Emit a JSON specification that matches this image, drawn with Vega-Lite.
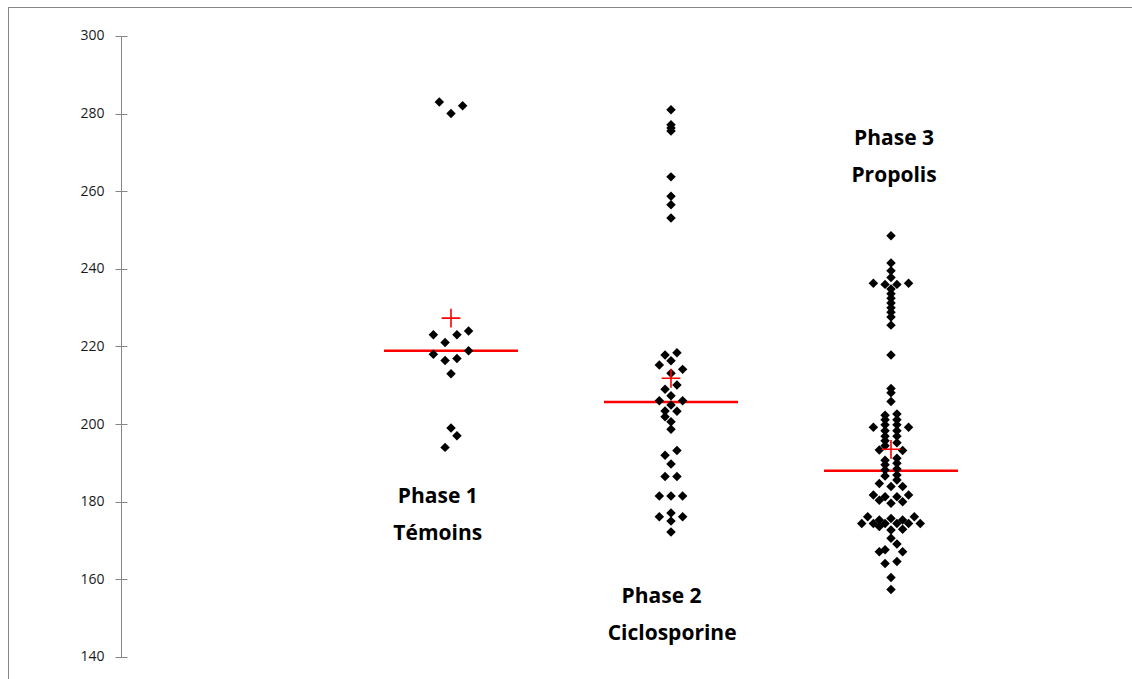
{
  "$schema": "https://vega.github.io/schema/vega-lite/v6.json",
  "width": 1124,
  "height": 672,
  "autosize": {"type": "none"},
  "padding": {"left": 8, "top": 7, "right": 0, "bottom": 0},
  "background": "white",
  "config": {
    "view": {"stroke": null},
    "axisY": {
      "domain": false,
      "grid": false,
      "tickSize": 12,
      "tickColor": "#868686",
      "tickWidth": 1,
      "offset": -119,
      "labelPadding": 11,
      "labelFont": "Open Sans",
      "labelFontSize": 14,
      "labelColor": "#1a1a1a"
    }
  },
  "datasets": {
    "dots": [
      {"phase": 1, "x": 0.947, "value": 283},
      {"phase": 1, "x": 1.0, "value": 280},
      {"phase": 1, "x": 1.053, "value": 282},
      {"phase": 1, "x": 0.920, "value": 223},
      {"phase": 1, "x": 0.973, "value": 221},
      {"phase": 1, "x": 1.027, "value": 223},
      {"phase": 1, "x": 1.080, "value": 224},
      {"phase": 1, "x": 0.920, "value": 218},
      {"phase": 1, "x": 0.973, "value": 216.4},
      {"phase": 1, "x": 1.027, "value": 216.9},
      {"phase": 1, "x": 1.080, "value": 218.9},
      {"phase": 1, "x": 1.0, "value": 213},
      {"phase": 1, "x": 1.0, "value": 199},
      {"phase": 1, "x": 1.027, "value": 197},
      {"phase": 1, "x": 0.973, "value": 194},

      {"phase": 2, "x": 2.0, "value": 281},
      {"phase": 2, "x": 2.0, "value": 277.1},
      {"phase": 2, "x": 2.0, "value": 276.3},
      {"phase": 2, "x": 2.0, "value": 275.5},
      {"phase": 2, "x": 2.0, "value": 263.7},
      {"phase": 2, "x": 2.0, "value": 258.7},
      {"phase": 2, "x": 2.0, "value": 256.5},
      {"phase": 2, "x": 2.0, "value": 253.1},
      {"phase": 2, "x": 1.973, "value": 217.8},
      {"phase": 2, "x": 2.027, "value": 218.4},
      {"phase": 2, "x": 2.0, "value": 216.3},
      {"phase": 2, "x": 1.947, "value": 215.2},
      {"phase": 2, "x": 2.053, "value": 214.1},
      {"phase": 2, "x": 2.0, "value": 213.1},
      {"phase": 2, "x": 2.027, "value": 210.1},
      {"phase": 2, "x": 1.973, "value": 209.0},
      {"phase": 2, "x": 2.0, "value": 207.3},
      {"phase": 2, "x": 1.947, "value": 206.0},
      {"phase": 2, "x": 2.053, "value": 206.0},
      {"phase": 2, "x": 2.0, "value": 204.9},
      {"phase": 2, "x": 2.027, "value": 203.3},
      {"phase": 2, "x": 1.973, "value": 203.4},
      {"phase": 2, "x": 1.973, "value": 201.9},
      {"phase": 2, "x": 2.0, "value": 200.6},
      {"phase": 2, "x": 2.0, "value": 198.7},
      {"phase": 2, "x": 2.027, "value": 193.2},
      {"phase": 2, "x": 1.973, "value": 192.0},
      {"phase": 2, "x": 2.0, "value": 189.7},
      {"phase": 2, "x": 1.973, "value": 186.5},
      {"phase": 2, "x": 2.027, "value": 186.5},
      {"phase": 2, "x": 1.947, "value": 181.5},
      {"phase": 2, "x": 2.0, "value": 181.5},
      {"phase": 2, "x": 2.053, "value": 181.5},
      {"phase": 2, "x": 1.947, "value": 176.1},
      {"phase": 2, "x": 2.053, "value": 176.1},
      {"phase": 2, "x": 2.0, "value": 177.1},
      {"phase": 2, "x": 2.0, "value": 175.0},
      {"phase": 2, "x": 2.0, "value": 172.2},

      {"phase": 3, "x": 3.0, "value": 248.5},
      {"phase": 3, "x": 3.0, "value": 241.5},
      {"phase": 3, "x": 3.0, "value": 239.5},
      {"phase": 3, "x": 3.0, "value": 237.8},
      {"phase": 3, "x": 2.920, "value": 236.3},
      {"phase": 3, "x": 2.973, "value": 236.0},
      {"phase": 3, "x": 3.027, "value": 236.0},
      {"phase": 3, "x": 3.080, "value": 236.3},
      {"phase": 3, "x": 3.0, "value": 234.8},
      {"phase": 3, "x": 3.0, "value": 233.6},
      {"phase": 3, "x": 3.0, "value": 232.4},
      {"phase": 3, "x": 3.0, "value": 231.2},
      {"phase": 3, "x": 3.0, "value": 230.0},
      {"phase": 3, "x": 3.0, "value": 228.8},
      {"phase": 3, "x": 3.0, "value": 227.6},
      {"phase": 3, "x": 3.0, "value": 225.5},
      {"phase": 3, "x": 3.0, "value": 217.8},
      {"phase": 3, "x": 3.0, "value": 209.2},
      {"phase": 3, "x": 3.0, "value": 208.1},
      {"phase": 3, "x": 3.0, "value": 205.8},
      {"phase": 3, "x": 2.973, "value": 202.3},
      {"phase": 3, "x": 3.027, "value": 202.6},
      {"phase": 3, "x": 2.973, "value": 201.1},
      {"phase": 3, "x": 3.027, "value": 201.1},
      {"phase": 3, "x": 2.973, "value": 199.8},
      {"phase": 3, "x": 3.027, "value": 199.8},
      {"phase": 3, "x": 2.920, "value": 199.2},
      {"phase": 3, "x": 3.080, "value": 199.2},
      {"phase": 3, "x": 2.973, "value": 198.3},
      {"phase": 3, "x": 3.027, "value": 198.3},
      {"phase": 3, "x": 2.973, "value": 196.9},
      {"phase": 3, "x": 3.027, "value": 196.9},
      {"phase": 3, "x": 2.973, "value": 195.7},
      {"phase": 3, "x": 3.027, "value": 195.2},
      {"phase": 3, "x": 2.973, "value": 194.4},
      {"phase": 3, "x": 2.947, "value": 193.3},
      {"phase": 3, "x": 3.053, "value": 193.2},
      {"phase": 3, "x": 2.973, "value": 190.7},
      {"phase": 3, "x": 3.027, "value": 191.2},
      {"phase": 3, "x": 2.973, "value": 189.5},
      {"phase": 3, "x": 3.027, "value": 189.9},
      {"phase": 3, "x": 2.973, "value": 188.2},
      {"phase": 3, "x": 3.027, "value": 188.4},
      {"phase": 3, "x": 2.973, "value": 186.6},
      {"phase": 3, "x": 3.027, "value": 186.9},
      {"phase": 3, "x": 3.027, "value": 185.6},
      {"phase": 3, "x": 2.947, "value": 184.7},
      {"phase": 3, "x": 3.0, "value": 183.9},
      {"phase": 3, "x": 3.053, "value": 183.9},
      {"phase": 3, "x": 2.920, "value": 181.7},
      {"phase": 3, "x": 2.973, "value": 181.3},
      {"phase": 3, "x": 3.027, "value": 181.3},
      {"phase": 3, "x": 3.080, "value": 181.7},
      {"phase": 3, "x": 2.947, "value": 180.4},
      {"phase": 3, "x": 3.053, "value": 180.0},
      {"phase": 3, "x": 3.0, "value": 179.6},
      {"phase": 3, "x": 2.894, "value": 176.1},
      {"phase": 3, "x": 3.106, "value": 176.1},
      {"phase": 3, "x": 3.0, "value": 175.7},
      {"phase": 3, "x": 2.947, "value": 175.3},
      {"phase": 3, "x": 3.053, "value": 175.3},
      {"phase": 3, "x": 2.867, "value": 174.4},
      {"phase": 3, "x": 2.920, "value": 174.4},
      {"phase": 3, "x": 2.973, "value": 174.4},
      {"phase": 3, "x": 3.027, "value": 174.4},
      {"phase": 3, "x": 3.080, "value": 174.4},
      {"phase": 3, "x": 3.133, "value": 174.4},
      {"phase": 3, "x": 2.947, "value": 173.6},
      {"phase": 3, "x": 3.0, "value": 172.7},
      {"phase": 3, "x": 3.053, "value": 172.9},
      {"phase": 3, "x": 3.0, "value": 170.6},
      {"phase": 3, "x": 3.027, "value": 169.1},
      {"phase": 3, "x": 2.947, "value": 167.1},
      {"phase": 3, "x": 2.973, "value": 167.6},
      {"phase": 3, "x": 3.053, "value": 167.1},
      {"phase": 3, "x": 2.973, "value": 164.1},
      {"phase": 3, "x": 3.027, "value": 164.6},
      {"phase": 3, "x": 3.0, "value": 160.5},
      {"phase": 3, "x": 3.0, "value": 157.4}
    ],
    "medians": [
      {"x": 1, "value": 218.9},
      {"x": 2, "value": 205.7},
      {"x": 3, "value": 188.0}
    ],
    "means": [
      {"x": 1, "value": 227.3},
      {"x": 2, "value": 211.8},
      {"x": 3, "value": 193.5}
    ],
    "labels": [
      {"x": 0.94, "value": 181.3, "text": "Phase 1"},
      {"x": 0.94, "value": 171.8, "text": "Témoins"},
      {"x": 1.957, "value": 155.4, "text": "Phase 2"},
      {"x": 2.005, "value": 145.9, "text": "Ciclosporine"},
      {"x": 3.014, "value": 273.4, "text": "Phase 3"},
      {"x": 3.014, "value": 263.9, "text": "Propolis"}
    ]
  },
  "layer": [
    {
      "data": {"values": [{}]},
      "mark": {"type": "rule", "color": "#868686", "strokeWidth": 1},
      "encoding": {
        "x": {"datum": -1.0113, "type": "quantitative", "axis": null, "scale": {"domain": [-1.0136, 4.0955], "nice": false, "zero": false}}
      }
    },
    {
      "data": {"values": [{}]},
      "mark": {"type": "rule", "color": "#868686", "strokeWidth": 1},
      "encoding": {
        "y": {"datum": 307.34, "type": "quantitative", "title": null, "axis": {"values": [140, 160, 180, 200, 220, 240, 260, 280, 300]}, "scale": {"domain": [134.32, 307.47], "nice": false, "zero": false}}
      }
    },
    {
      "data": {"values": [{}]},
      "mark": {"type": "rule", "color": "#868686", "strokeWidth": 1},
      "encoding": {
        "x": {"datum": -0.4977, "type": "quantitative", "axis": null, "scale": {"domain": [-1.0136, 4.0955], "nice": false, "zero": false}},
        "y": {"datum": 140, "type": "quantitative", "title": null, "axis": {"values": [140, 160, 180, 200, 220, 240, 260, 280, 300]}, "scale": {"domain": [134.32, 307.47], "nice": false, "zero": false}},
        "y2": {"datum": 300}
      }
    },
    {
      "data": {"name": "medians"},
      "mark": {"type": "tick", "orient": "horizontal", "size": 134, "thickness": 2.5, "color": "#ff0000", "opacity": 1},
      "encoding": {
        "x": {"field": "x", "type": "quantitative", "axis": null, "scale": {"domain": [-1.0136, 4.0955], "nice": false, "zero": false}},
        "y": {"field": "value", "type": "quantitative", "title": null, "axis": {"values": [140, 160, 180, 200, 220, 240, 260, 280, 300]}, "scale": {"domain": [134.32, 307.47], "nice": false, "zero": false}}
      }
    },
    {
      "data": {"name": "dots"},
      "mark": {"type": "point", "shape": "diamond", "filled": true, "color": "#000000", "opacity": 1, "size": 90},
      "encoding": {
        "x": {"field": "x", "type": "quantitative", "axis": null, "scale": {"domain": [-1.0136, 4.0955], "nice": false, "zero": false}},
        "y": {"field": "value", "type": "quantitative", "title": null, "axis": {"values": [140, 160, 180, 200, 220, 240, 260, 280, 300]}, "scale": {"domain": [134.32, 307.47], "nice": false, "zero": false}}
      }
    },
    {
      "data": {"name": "means"},
      "mark": {"type": "point", "shape": "M-1,0H1M0,-1V1", "filled": false, "stroke": "#ff0000", "strokeWidth": 1.6, "opacity": 1, "size": 350},
      "encoding": {
        "x": {"field": "x", "type": "quantitative", "axis": null, "scale": {"domain": [-1.0136, 4.0955], "nice": false, "zero": false}},
        "y": {"field": "value", "type": "quantitative", "title": null, "axis": {"values": [140, 160, 180, 200, 220, 240, 260, 280, 300]}, "scale": {"domain": [134.32, 307.47], "nice": false, "zero": false}}
      }
    },
    {
      "data": {"name": "labels"},
      "mark": {"type": "text", "font": "Open Sans", "fontSize": 21, "fontWeight": "bold", "color": "#000000", "align": "center", "baseline": "middle"},
      "encoding": {
        "x": {"field": "x", "type": "quantitative", "axis": null, "scale": {"domain": [-1.0136, 4.0955], "nice": false, "zero": false}},
        "y": {"field": "value", "type": "quantitative", "title": null, "axis": {"values": [140, 160, 180, 200, 220, 240, 260, 280, 300]}, "scale": {"domain": [134.32, 307.47], "nice": false, "zero": false}},
        "text": {"field": "text"}
      }
    }
  ]
}
